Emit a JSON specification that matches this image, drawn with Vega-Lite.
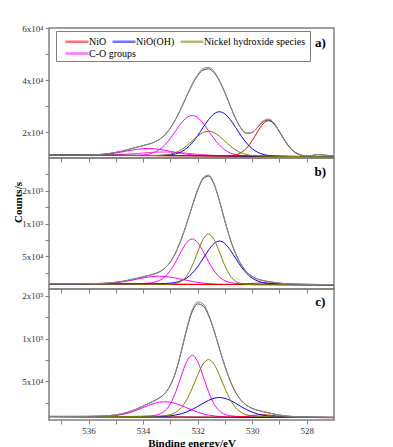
{
"$schema":"https://vega.github.io/schema/vega-lite/v6.json",
"background":"white",
"padding":{"left":11,"top":23,"right":5,"bottom":5},
"config":{"view":{"stroke":"#808080","strokeWidth":1.5},"font":"Liberation Serif",
"axis":{"domain":false,"grid":false,"tickColor":"#808080","tickSize":4,"tickWidth":1,"labelFont":"Liberation Serif","labelFontSize":9,"labelColor":"#333333","labelPadding":2,"titleFont":"Liberation Serif","titleFontWeight":"bold","titleFontSize":11,"titleColor":"#000000"}},
"data":{"values":[
{"p":"a","s":"s0 Background","x":537.45,"y":11200},{"p":"a","s":"s0 Background","x":527,"y":10500},
{"p":"a","s":"s1 NiO","x":537.45,"y":11200},{"p":"a","s":"s1 NiO","x":531.2,"y":10789},{"p":"a","s":"s1 NiO","x":531,"y":10806},{"p":"a","s":"s1 NiO","x":530.8,"y":10908},{"p":"a","s":"s1 NiO","x":530.6,"y":11245},{"p":"a","s":"s1 NiO","x":530.4,"y":12107},{"p":"a","s":"s1 NiO","x":530.2,"y":13867},{"p":"a","s":"s1 NiO","x":530,"y":16680},{"p":"a","s":"s1 NiO","x":529.8,"y":20147},{"p":"a","s":"s1 NiO","x":529.6,"y":23123},{"p":"a","s":"s1 NiO","x":529.4,"y":24311},{"p":"a","s":"s1 NiO","x":529.2,"y":23096},{"p":"a","s":"s1 NiO","x":529,"y":20093},{"p":"a","s":"s1 NiO","x":528.8,"y":16600},{"p":"a","s":"s1 NiO","x":528.6,"y":13760},{"p":"a","s":"s1 NiO","x":528.4,"y":11973},{"p":"a","s":"s1 NiO","x":528.2,"y":11084},{"p":"a","s":"s1 NiO","x":528,"y":10720},{"p":"a","s":"s1 NiO","x":527.6,"y":10548},{"p":"a","s":"s1 NiO","x":527,"y":10500},
{"p":"a","s":"s2 NiO(OH)","x":537.45,"y":11200},{"p":"a","s":"s2 NiO(OH)","x":533.6,"y":10956},{"p":"a","s":"s2 NiO(OH)","x":533.4,"y":10973},{"p":"a","s":"s2 NiO(OH)","x":533.2,"y":11037},{"p":"a","s":"s2 NiO(OH)","x":533,"y":11217},{"p":"a","s":"s2 NiO(OH)","x":532.8,"y":11615},{"p":"a","s":"s2 NiO(OH)","x":532.6,"y":12395},{"p":"a","s":"s2 NiO(OH)","x":532.4,"y":13752},{"p":"a","s":"s2 NiO(OH)","x":532.2,"y":15812},{"p":"a","s":"s2 NiO(OH)","x":532,"y":18553},{"p":"a","s":"s2 NiO(OH)","x":531.8,"y":21735},{"p":"a","s":"s2 NiO(OH)","x":531.6,"y":24765},{"p":"a","s":"s2 NiO(OH)","x":531.4,"y":26979},{"p":"a","s":"s2 NiO(OH)","x":531.2,"y":27781},{"p":"a","s":"s2 NiO(OH)","x":531,"y":26952},{"p":"a","s":"s2 NiO(OH)","x":530.8,"y":24712},{"p":"a","s":"s2 NiO(OH)","x":530.6,"y":21655},{"p":"a","s":"s2 NiO(OH)","x":530.4,"y":18446},{"p":"a","s":"s2 NiO(OH)","x":530.2,"y":15678},{"p":"a","s":"s2 NiO(OH)","x":530,"y":13591},{"p":"a","s":"s2 NiO(OH)","x":529.8,"y":12208},{"p":"a","s":"s2 NiO(OH)","x":529.6,"y":11400},{"p":"a","s":"s2 NiO(OH)","x":529.4,"y":10976},{"p":"a","s":"s2 NiO(OH)","x":529.2,"y":10769},{"p":"a","s":"s2 NiO(OH)","x":529,"y":10678},{"p":"a","s":"s2 NiO(OH)","x":528.8,"y":10635},{"p":"a","s":"s2 NiO(OH)","x":527,"y":10500},
{"p":"a","s":"s3 Nickel hydroxide species","x":537.45,"y":11200},{"p":"a","s":"s3 Nickel hydroxide species","x":533.8,"y":10966},{"p":"a","s":"s3 Nickel hydroxide species","x":533.6,"y":10975},{"p":"a","s":"s3 Nickel hydroxide species","x":533.4,"y":11026},{"p":"a","s":"s3 Nickel hydroxide species","x":533.2,"y":11170},{"p":"a","s":"s3 Nickel hydroxide species","x":533,"y":11496},{"p":"a","s":"s3 Nickel hydroxide species","x":532.8,"y":12124},{"p":"a","s":"s3 Nickel hydroxide species","x":532.6,"y":13184},{"p":"a","s":"s3 Nickel hydroxide species","x":532.4,"y":14700},{"p":"a","s":"s3 Nickel hydroxide species","x":532.2,"y":16558},{"p":"a","s":"s3 Nickel hydroxide species","x":532,"y":18407},{"p":"a","s":"s3 Nickel hydroxide species","x":531.8,"y":19799},{"p":"a","s":"s3 Nickel hydroxide species","x":531.6,"y":20308},{"p":"a","s":"s3 Nickel hydroxide species","x":531.4,"y":19773},{"p":"a","s":"s3 Nickel hydroxide species","x":531.2,"y":18353},{"p":"a","s":"s3 Nickel hydroxide species","x":531,"y":16478},{"p":"a","s":"s3 Nickel hydroxide species","x":530.8,"y":14593},{"p":"a","s":"s3 Nickel hydroxide species","x":530.6,"y":13050},{"p":"a","s":"s3 Nickel hydroxide species","x":530.4,"y":11963},{"p":"a","s":"s3 Nickel hydroxide species","x":530.2,"y":11308},{"p":"a","s":"s3 Nickel hydroxide species","x":530,"y":10956},{"p":"a","s":"s3 Nickel hydroxide species","x":529.8,"y":10785},{"p":"a","s":"s3 Nickel hydroxide species","x":529.6,"y":10707},{"p":"a","s":"s3 Nickel hydroxide species","x":529.4,"y":10671},{"p":"a","s":"s3 Nickel hydroxide species","x":527,"y":10500},
{"p":"a","s":"s4 C-O groups","x":537.45,"y":11200},{"p":"a","s":"s4 C-O groups","x":534.6,"y":11017},{"p":"a","s":"s4 C-O groups","x":534.4,"y":11022},{"p":"a","s":"s4 C-O groups","x":534.2,"y":11061},{"p":"a","s":"s4 C-O groups","x":534,"y":11184},{"p":"a","s":"s4 C-O groups","x":533.8,"y":11486},{"p":"a","s":"s4 C-O groups","x":533.6,"y":12111},{"p":"a","s":"s4 C-O groups","x":533.4,"y":13254},{"p":"a","s":"s4 C-O groups","x":533.2,"y":15061},{"p":"a","s":"s4 C-O groups","x":533,"y":17567},{"p":"a","s":"s4 C-O groups","x":532.8,"y":20530},{"p":"a","s":"s4 C-O groups","x":532.6,"y":23430},{"p":"a","s":"s4 C-O groups","x":532.4,"y":25572},{"p":"a","s":"s4 C-O groups","x":532.2,"y":26348},{"p":"a","s":"s4 C-O groups","x":532,"y":25545},{"p":"a","s":"s4 C-O groups","x":531.8,"y":23376},{"p":"a","s":"s4 C-O groups","x":531.6,"y":20449},{"p":"a","s":"s4 C-O groups","x":531.4,"y":17460},{"p":"a","s":"s4 C-O groups","x":531.2,"y":14927},{"p":"a","s":"s4 C-O groups","x":531,"y":13093},{"p":"a","s":"s4 C-O groups","x":530.8,"y":11924},{"p":"a","s":"s4 C-O groups","x":530.6,"y":11271},{"p":"a","s":"s4 C-O groups","x":530.4,"y":10943},{"p":"a","s":"s4 C-O groups","x":530.2,"y":10793},{"p":"a","s":"s4 C-O groups","x":530,"y":10727},{"p":"a","s":"s4 C-O groups","x":529.8,"y":10696},{"p":"a","s":"s4 C-O groups","x":527,"y":10500},
{"p":"a","s":"s5 C-O groups 2","x":537.45,"y":11200},{"p":"a","s":"s5 C-O groups 2","x":537,"y":11171},{"p":"a","s":"s5 C-O groups 2","x":536.5,"y":11150},{"p":"a","s":"s5 C-O groups 2","x":536,"y":11168},{"p":"a","s":"s5 C-O groups 2","x":535.5,"y":11363},{"p":"a","s":"s5 C-O groups 2","x":535,"y":11930},{"p":"a","s":"s5 C-O groups 2","x":534.8,"y":12276},{"p":"a","s":"s5 C-O groups 2","x":534.6,"y":12661},{"p":"a","s":"s5 C-O groups 2","x":534.4,"y":13043},{"p":"a","s":"s5 C-O groups 2","x":534.2,"y":13369},{"p":"a","s":"s5 C-O groups 2","x":534,"y":13588},{"p":"a","s":"s5 C-O groups 2","x":533.8,"y":13656},{"p":"a","s":"s5 C-O groups 2","x":533.6,"y":13561},{"p":"a","s":"s5 C-O groups 2","x":533.4,"y":13316},{"p":"a","s":"s5 C-O groups 2","x":533.2,"y":12962},{"p":"a","s":"s5 C-O groups 2","x":533,"y":12554},{"p":"a","s":"s5 C-O groups 2","x":532.8,"y":12142},{"p":"a","s":"s5 C-O groups 2","x":532.6,"y":11769},{"p":"a","s":"s5 C-O groups 2","x":532.4,"y":11461},{"p":"a","s":"s5 C-O groups 2","x":532.2,"y":11226},{"p":"a","s":"s5 C-O groups 2","x":532,"y":11059},{"p":"a","s":"s5 C-O groups 2","x":531.8,"y":10945},{"p":"a","s":"s5 C-O groups 2","x":531.6,"y":10873},{"p":"a","s":"s5 C-O groups 2","x":531.4,"y":10827},{"p":"a","s":"s5 C-O groups 2","x":531.2,"y":10796},{"p":"a","s":"s5 C-O groups 2","x":531,"y":10774},{"p":"a","s":"s5 C-O groups 2","x":527,"y":10500},
{"p":"a","s":"s6 C-O groups 3","x":537.45,"y":11200},{"p":"a","s":"s6 C-O groups 3","x":536,"y":11118},{"p":"a","s":"s6 C-O groups 3","x":535.5,"y":11137},{"p":"a","s":"s6 C-O groups 3","x":535,"y":11254},{"p":"a","s":"s6 C-O groups 3","x":534.8,"y":11346},{"p":"a","s":"s6 C-O groups 3","x":534.6,"y":11464},{"p":"a","s":"s6 C-O groups 3","x":534.4,"y":11609},{"p":"a","s":"s6 C-O groups 3","x":534.2,"y":11772},{"p":"a","s":"s6 C-O groups 3","x":534,"y":11939},{"p":"a","s":"s6 C-O groups 3","x":533.8,"y":12096},{"p":"a","s":"s6 C-O groups 3","x":533.6,"y":12219},{"p":"a","s":"s6 C-O groups 3","x":533.4,"y":12297},{"p":"a","s":"s6 C-O groups 3","x":533.2,"y":12315},{"p":"a","s":"s6 C-O groups 3","x":533,"y":12270},{"p":"a","s":"s6 C-O groups 3","x":532.8,"y":12166},{"p":"a","s":"s6 C-O groups 3","x":532.6,"y":12015},{"p":"a","s":"s6 C-O groups 3","x":532.4,"y":11832},{"p":"a","s":"s6 C-O groups 3","x":532.2,"y":11638},{"p":"a","s":"s6 C-O groups 3","x":532,"y":11448},{"p":"a","s":"s6 C-O groups 3","x":531.8,"y":11276},{"p":"a","s":"s6 C-O groups 3","x":531.6,"y":11131},{"p":"a","s":"s6 C-O groups 3","x":531.4,"y":11013},{"p":"a","s":"s6 C-O groups 3","x":531.2,"y":10922},{"p":"a","s":"s6 C-O groups 3","x":531,"y":10856},{"p":"a","s":"s6 C-O groups 3","x":530.8,"y":10807},{"p":"a","s":"s6 C-O groups 3","x":530.6,"y":10770},{"p":"a","s":"s6 C-O groups 3","x":530.4,"y":10743},{"p":"a","s":"s6 C-O groups 3","x":530,"y":10704},{"p":"a","s":"s6 C-O groups 3","x":527,"y":10500},
{"p":"a","s":"s7 Fit","x":537.45,"y":11200},{"p":"a","s":"s7 Fit","x":537,"y":11171},{"p":"a","s":"s7 Fit","x":536.5,"y":11150},{"p":"a","s":"s7 Fit","x":536,"y":11183},{"p":"a","s":"s7 Fit","x":535.5,"y":11430},{"p":"a","s":"s7 Fit","x":535,"y":12148},{"p":"a","s":"s7 Fit","x":534.8,"y":12601},{"p":"a","s":"s7 Fit","x":534.6,"y":13124},{"p":"a","s":"s7 Fit","x":534.4,"y":13682},{"p":"a","s":"s7 Fit","x":534.2,"y":14238},{"p":"a","s":"s7 Fit","x":534,"y":14776},{"p":"a","s":"s7 Fit","x":533.8,"y":15340},{"p":"a","s":"s7 Fit","x":533.6,"y":16054},{"p":"a","s":"s7 Fit","x":533.4,"y":17150},{"p":"a","s":"s7 Fit","x":533.2,"y":18885},{"p":"a","s":"s7 Fit","x":533,"y":21496},{"p":"a","s":"s7 Fit","x":532.8,"y":25021},{"p":"a","s":"s7 Fit","x":532.6,"y":29293},{"p":"a","s":"s7 Fit","x":532.4,"y":33869},{"p":"a","s":"s7 Fit","x":532.2,"y":38190},{"p":"a","s":"s7 Fit","x":532,"y":41672},{"p":"a","s":"s7 Fit","x":531.8,"y":43847},{"p":"a","s":"s7 Fit","x":531.6,"y":44294},{"p":"a","s":"s7 Fit","x":531.4,"y":42873},{"p":"a","s":"s7 Fit","x":531.2,"y":39663},{"p":"a","s":"s7 Fit","x":531,"y":35119},{"p":"a","s":"s7 Fit","x":530.8,"y":29924},{"p":"a","s":"s7 Fit","x":530.6,"y":25027},{"p":"a","s":"s7 Fit","x":530.4,"y":21290},{"p":"a","s":"s7 Fit","x":530.2,"y":19512},{"p":"a","s":"s7 Fit","x":530,"y":19854},{"p":"a","s":"s7 Fit","x":529.8,"y":21772},{"p":"a","s":"s7 Fit","x":529.6,"y":23882},{"p":"a","s":"s7 Fit","x":529.4,"y":24636},{"p":"a","s":"s7 Fit","x":529.2,"y":23218},{"p":"a","s":"s7 Fit","x":529,"y":20137},{"p":"a","s":"s7 Fit","x":528.8,"y":16614},{"p":"a","s":"s7 Fit","x":528.6,"y":13760},{"p":"a","s":"s7 Fit","x":528.4,"y":11973},{"p":"a","s":"s7 Fit","x":528.2,"y":11084},{"p":"a","s":"s7 Fit","x":528,"y":10750},{"p":"a","s":"s7 Fit","x":527.8,"y":11000},{"p":"a","s":"s7 Fit","x":527.6,"y":11250},{"p":"a","s":"s7 Fit","x":527.4,"y":11150},{"p":"a","s":"s7 Fit","x":527,"y":10800},
{"p":"a","s":"s8 Experimental","x":537.45,"y":11200},{"p":"a","s":"s8 Experimental","x":537,"y":11171},{"p":"a","s":"s8 Experimental","x":536.5,"y":11150},{"p":"a","s":"s8 Experimental","x":536,"y":11183},{"p":"a","s":"s8 Experimental","x":535.5,"y":11430},{"p":"a","s":"s8 Experimental","x":535,"y":12148},{"p":"a","s":"s8 Experimental","x":534.8,"y":12601},{"p":"a","s":"s8 Experimental","x":534.6,"y":13124},{"p":"a","s":"s8 Experimental","x":534.4,"y":13682},{"p":"a","s":"s8 Experimental","x":534.2,"y":14238},{"p":"a","s":"s8 Experimental","x":534,"y":14776},{"p":"a","s":"s8 Experimental","x":533.8,"y":15340},{"p":"a","s":"s8 Experimental","x":533.6,"y":16054},{"p":"a","s":"s8 Experimental","x":533.4,"y":17150},{"p":"a","s":"s8 Experimental","x":533.2,"y":18885},{"p":"a","s":"s8 Experimental","x":533,"y":21496},{"p":"a","s":"s8 Experimental","x":532.8,"y":25021},{"p":"a","s":"s8 Experimental","x":532.6,"y":29293},{"p":"a","s":"s8 Experimental","x":532.4,"y":33869},{"p":"a","s":"s8 Experimental","x":532.2,"y":38400},{"p":"a","s":"s8 Experimental","x":532,"y":42000},{"p":"a","s":"s8 Experimental","x":531.8,"y":44400},{"p":"a","s":"s8 Experimental","x":531.6,"y":44900},{"p":"a","s":"s8 Experimental","x":531.4,"y":43300},{"p":"a","s":"s8 Experimental","x":531.2,"y":39800},{"p":"a","s":"s8 Experimental","x":531,"y":35119},{"p":"a","s":"s8 Experimental","x":530.8,"y":29924},{"p":"a","s":"s8 Experimental","x":530.6,"y":25027},{"p":"a","s":"s8 Experimental","x":530.4,"y":21290},{"p":"a","s":"s8 Experimental","x":530.2,"y":19512},{"p":"a","s":"s8 Experimental","x":530,"y":19854},{"p":"a","s":"s8 Experimental","x":529.8,"y":21900},{"p":"a","s":"s8 Experimental","x":529.6,"y":24200},{"p":"a","s":"s8 Experimental","x":529.4,"y":25000},{"p":"a","s":"s8 Experimental","x":529.2,"y":23500},{"p":"a","s":"s8 Experimental","x":529,"y":20137},{"p":"a","s":"s8 Experimental","x":528.8,"y":16614},{"p":"a","s":"s8 Experimental","x":528.6,"y":13760},{"p":"a","s":"s8 Experimental","x":528.4,"y":11973},{"p":"a","s":"s8 Experimental","x":528.2,"y":11084},{"p":"a","s":"s8 Experimental","x":528,"y":10750},{"p":"a","s":"s8 Experimental","x":527.8,"y":11000},{"p":"a","s":"s8 Experimental","x":527.6,"y":11350},{"p":"a","s":"s8 Experimental","x":527.4,"y":11150},{"p":"a","s":"s8 Experimental","x":527,"y":10800},

{"p":"b","s":"s0 Background","x":537.45,"y":7760},{"p":"b","s":"s0 Background","x":527,"y":6300},
{"p":"b","s":"s1 NiO","x":537.45,"y":7760},{"p":"b","s":"s1 NiO","x":531.2,"y":6895},{"p":"b","s":"s1 NiO","x":531,"y":6888},{"p":"b","s":"s1 NiO","x":530.8,"y":6925},{"p":"b","s":"s1 NiO","x":530.6,"y":7057},{"p":"b","s":"s1 NiO","x":530.4,"y":7354},{"p":"b","s":"s1 NiO","x":530.2,"y":7843},{"p":"b","s":"s1 NiO","x":530,"y":8453},{"p":"b","s":"s1 NiO","x":529.8,"y":8972},{"p":"b","s":"s1 NiO","x":529.6,"y":9164},{"p":"b","s":"s1 NiO","x":529.4,"y":8916},{"p":"b","s":"s1 NiO","x":529.2,"y":8341},{"p":"b","s":"s1 NiO","x":529,"y":7675},{"p":"b","s":"s1 NiO","x":528.8,"y":7130},{"p":"b","s":"s1 NiO","x":528.6,"y":6777},{"p":"b","s":"s1 NiO","x":528.4,"y":6589},{"p":"b","s":"s1 NiO","x":528.2,"y":6496},{"p":"b","s":"s1 NiO","x":528,"y":6447},{"p":"b","s":"s1 NiO","x":527,"y":6300},
{"p":"b","s":"s2 NiO(OH)","x":537.45,"y":7890},{"p":"b","s":"s2 NiO(OH)","x":535,"y":7746},{"p":"b","s":"s2 NiO(OH)","x":534.6,"y":7768},{"p":"b","s":"s2 NiO(OH)","x":534.2,"y":7819},{"p":"b","s":"s2 NiO(OH)","x":534,"y":7863},{"p":"b","s":"s2 NiO(OH)","x":533.8,"y":7922},{"p":"b","s":"s2 NiO(OH)","x":533.6,"y":8006},{"p":"b","s":"s2 NiO(OH)","x":533.4,"y":8171},{"p":"b","s":"s2 NiO(OH)","x":533.2,"y":8454},{"p":"b","s":"s2 NiO(OH)","x":533,"y":9023},{"p":"b","s":"s2 NiO(OH)","x":532.8,"y":10221},{"p":"b","s":"s2 NiO(OH)","x":532.6,"y":12594},{"p":"b","s":"s2 NiO(OH)","x":532.4,"y":16908},{"p":"b","s":"s2 NiO(OH)","x":532.2,"y":23994},{"p":"b","s":"s2 NiO(OH)","x":532,"y":34077},{"p":"b","s":"s2 NiO(OH)","x":531.8,"y":46580},{"p":"b","s":"s2 NiO(OH)","x":531.6,"y":59361},{"p":"b","s":"s2 NiO(OH)","x":531.4,"y":69371},{"p":"b","s":"s2 NiO(OH)","x":531.2,"y":73188},{"p":"b","s":"s2 NiO(OH)","x":531,"y":69315},{"p":"b","s":"s2 NiO(OH)","x":530.8,"y":59249},{"p":"b","s":"s2 NiO(OH)","x":530.6,"y":46412},{"p":"b","s":"s2 NiO(OH)","x":530.4,"y":33853},{"p":"b","s":"s2 NiO(OH)","x":530.2,"y":23714},{"p":"b","s":"s2 NiO(OH)","x":530,"y":16572},{"p":"b","s":"s2 NiO(OH)","x":529.8,"y":12202},{"p":"b","s":"s2 NiO(OH)","x":529.6,"y":9773},{"p":"b","s":"s2 NiO(OH)","x":529.4,"y":8519},{"p":"b","s":"s2 NiO(OH)","x":529.2,"y":7894},{"p":"b","s":"s2 NiO(OH)","x":529,"y":7555},{"p":"b","s":"s2 NiO(OH)","x":528.8,"y":7334},{"p":"b","s":"s2 NiO(OH)","x":528.6,"y":7194},{"p":"b","s":"s2 NiO(OH)","x":528.4,"y":7079},{"p":"b","s":"s2 NiO(OH)","x":528.2,"y":6979},{"p":"b","s":"s2 NiO(OH)","x":528,"y":6897},{"p":"b","s":"s2 NiO(OH)","x":527.6,"y":6749},{"p":"b","s":"s2 NiO(OH)","x":527,"y":6572},
{"p":"b","s":"s3 Nickel hydroxide species","x":537.45,"y":7760},{"p":"b","s":"s3 Nickel hydroxide species","x":533.4,"y":7205},{"p":"b","s":"s3 Nickel hydroxide species","x":533.2,"y":7230},{"p":"b","s":"s3 Nickel hydroxide species","x":533,"y":7479},{"p":"b","s":"s3 Nickel hydroxide species","x":532.8,"y":8537},{"p":"b","s":"s3 Nickel hydroxide species","x":532.6,"y":11897},{"p":"b","s":"s3 Nickel hydroxide species","x":532.4,"y":20146},{"p":"b","s":"s3 Nickel hydroxide species","x":532.2,"y":35441},{"p":"b","s":"s3 Nickel hydroxide species","x":532,"y":56434},{"p":"b","s":"s3 Nickel hydroxide species","x":531.8,"y":75887},{"p":"b","s":"s3 Nickel hydroxide species","x":531.6,"y":83944},{"p":"b","s":"s3 Nickel hydroxide species","x":531.4,"y":75831},{"p":"b","s":"s3 Nickel hydroxide species","x":531.2,"y":56322},{"p":"b","s":"s3 Nickel hydroxide species","x":531,"y":35273},{"p":"b","s":"s3 Nickel hydroxide species","x":530.8,"y":19922},{"p":"b","s":"s3 Nickel hydroxide species","x":530.6,"y":11617},{"p":"b","s":"s3 Nickel hydroxide species","x":530.4,"y":8201},{"p":"b","s":"s3 Nickel hydroxide species","x":530.2,"y":7087},{"p":"b","s":"s3 Nickel hydroxide species","x":530,"y":6782},{"p":"b","s":"s3 Nickel hydroxide species","x":529.8,"y":6701},{"p":"b","s":"s3 Nickel hydroxide species","x":527,"y":6300},
{"p":"b","s":"s4 C-O groups","x":537.45,"y":7893},{"p":"b","s":"s4 C-O groups","x":536,"y":7813},{"p":"b","s":"s4 C-O groups","x":535,"y":7878},{"p":"b","s":"s4 C-O groups","x":534.8,"y":7919},{"p":"b","s":"s4 C-O groups","x":534.6,"y":7974},{"p":"b","s":"s4 C-O groups","x":534.4,"y":8057},{"p":"b","s":"s4 C-O groups","x":534.2,"y":8189},{"p":"b","s":"s4 C-O groups","x":534,"y":8431},{"p":"b","s":"s4 C-O groups","x":533.8,"y":8958},{"p":"b","s":"s4 C-O groups","x":533.6,"y":10199},{"p":"b","s":"s4 C-O groups","x":533.4,"y":12959},{"p":"b","s":"s4 C-O groups","x":533.2,"y":18541},{"p":"b","s":"s4 C-O groups","x":533,"y":28084},{"p":"b","s":"s4 C-O groups","x":532.8,"y":41787},{"p":"b","s":"s4 C-O groups","x":532.6,"y":57640},{"p":"b","s":"s4 C-O groups","x":532.4,"y":70997},{"p":"b","s":"s4 C-O groups","x":532.2,"y":76378},{"p":"b","s":"s4 C-O groups","x":532,"y":70941},{"p":"b","s":"s4 C-O groups","x":531.8,"y":57528},{"p":"b","s":"s4 C-O groups","x":531.6,"y":41619},{"p":"b","s":"s4 C-O groups","x":531.4,"y":27860},{"p":"b","s":"s4 C-O groups","x":531.2,"y":18261},{"p":"b","s":"s4 C-O groups","x":531,"y":12623},{"p":"b","s":"s4 C-O groups","x":530.8,"y":9807},{"p":"b","s":"s4 C-O groups","x":530.6,"y":8510},{"p":"b","s":"s4 C-O groups","x":530.4,"y":7927},{"p":"b","s":"s4 C-O groups","x":530.2,"y":7629},{"p":"b","s":"s4 C-O groups","x":530,"y":7441},{"p":"b","s":"s4 C-O groups","x":529.8,"y":7302},{"p":"b","s":"s4 C-O groups","x":529.6,"y":7191},{"p":"b","s":"s4 C-O groups","x":529.4,"y":7094},{"p":"b","s":"s4 C-O groups","x":529.2,"y":7010},{"p":"b","s":"s4 C-O groups","x":529,"y":6934},{"p":"b","s":"s4 C-O groups","x":528,"y":6648},{"p":"b","s":"s4 C-O groups","x":527,"y":6437},
{"p":"b","s":"s5 C-O groups 2","x":537.45,"y":7760},{"p":"b","s":"s5 C-O groups 2","x":537,"y":7700},{"p":"b","s":"s5 C-O groups 2","x":536.5,"y":7645},{"p":"b","s":"s5 C-O groups 2","x":536,"y":7673},{"p":"b","s":"s5 C-O groups 2","x":535.5,"y":8068},{"p":"b","s":"s5 C-O groups 2","x":535,"y":9511},{"p":"b","s":"s5 C-O groups 2","x":534.8,"y":10553},{"p":"b","s":"s5 C-O groups 2","x":534.6,"y":11903},{"p":"b","s":"s5 C-O groups 2","x":534.4,"y":13486},{"p":"b","s":"s5 C-O groups 2","x":534.2,"y":15205},{"p":"b","s":"s5 C-O groups 2","x":534,"y":16862},{"p":"b","s":"s5 C-O groups 2","x":533.8,"y":18261},{"p":"b","s":"s5 C-O groups 2","x":533.6,"y":19192},{"p":"b","s":"s5 C-O groups 2","x":533.4,"y":19496},{"p":"b","s":"s5 C-O groups 2","x":533.2,"y":19136},{"p":"b","s":"s5 C-O groups 2","x":533,"y":18149},{"p":"b","s":"s5 C-O groups 2","x":532.8,"y":16694},{"p":"b","s":"s5 C-O groups 2","x":532.6,"y":14981},{"p":"b","s":"s5 C-O groups 2","x":532.4,"y":13206},{"p":"b","s":"s5 C-O groups 2","x":532.2,"y":11567},{"p":"b","s":"s5 C-O groups 2","x":532,"y":10161},{"p":"b","s":"s5 C-O groups 2","x":531.8,"y":9063},{"p":"b","s":"s5 C-O groups 2","x":531.6,"y":8248},{"p":"b","s":"s5 C-O groups 2","x":531.4,"y":7685},{"p":"b","s":"s5 C-O groups 2","x":531.2,"y":7317},{"p":"b","s":"s5 C-O groups 2","x":531,"y":7088},{"p":"b","s":"s5 C-O groups 2","x":530.8,"y":6945},{"p":"b","s":"s5 C-O groups 2","x":530.6,"y":6858},{"p":"b","s":"s5 C-O groups 2","x":530.4,"y":6801},{"p":"b","s":"s5 C-O groups 2","x":530,"y":6724},{"p":"b","s":"s5 C-O groups 2","x":527,"y":6300},
{"p":"b","s":"s7 Fit","x":537.45,"y":8020},{"p":"b","s":"s7 Fit","x":537,"y":8004},{"p":"b","s":"s7 Fit","x":536.5,"y":8015},{"p":"b","s":"s7 Fit","x":536,"y":8133},{"p":"b","s":"s7 Fit","x":535.5,"y":8658},{"p":"b","s":"s7 Fit","x":535,"y":10295},{"p":"b","s":"s7 Fit","x":534.8,"y":11445},{"p":"b","s":"s7 Fit","x":534.6,"y":12917},{"p":"b","s":"s7 Fit","x":534.4,"y":14664},{"p":"b","s":"s7 Fit","x":534.2,"y":16597},{"p":"b","s":"s7 Fit","x":534,"y":18596},{"p":"b","s":"s7 Fit","x":533.8,"y":20637},{"p":"b","s":"s7 Fit","x":533.6,"y":22950},{"p":"b","s":"s7 Fit","x":533.4,"y":26243},{"p":"b","s":"s7 Fit","x":533.2,"y":31857},{"p":"b","s":"s7 Fit","x":533,"y":41315},{"p":"b","s":"s7 Fit","x":532.8,"y":55903},{"p":"b","s":"s7 Fit","x":532.6,"y":75860},{"p":"b","s":"s7 Fit","x":532.4,"y":100089},{"p":"b","s":"s7 Fit","x":532.2,"y":126296},{"p":"b","s":"s7 Fit","x":532,"y":150613},{"p":"b","s":"s7 Fit","x":531.8,"y":168142},{"p":"b","s":"s7 Fit","x":531.6,"y":172340},{"p":"b","s":"s7 Fit","x":531.4,"y":159999},{"p":"b","s":"s7 Fit","x":531.2,"y":134431},{"p":"b","s":"s7 Fit","x":531,"y":103747},{"p":"b","s":"s7 Fit","x":530.8,"y":75520},{"p":"b","s":"s7 Fit","x":530.6,"y":53238},{"p":"b","s":"s7 Fit","x":530.4,"y":37032},{"p":"b","s":"s7 Fit","x":530.2,"y":26039},{"p":"b","s":"s7 Fit","x":530,"y":19092},{"p":"b","s":"s7 Fit","x":529.8,"y":15101},{"p":"b","s":"s7 Fit","x":529.6,"y":12800},{"p":"b","s":"s7 Fit","x":529.4,"y":11257},{"p":"b","s":"s7 Fit","x":529.2,"y":10029},{"p":"b","s":"s7 Fit","x":529,"y":9004},{"p":"b","s":"s7 Fit","x":528.8,"y":8226},{"p":"b","s":"s7 Fit","x":528.6,"y":7728},{"p":"b","s":"s7 Fit","x":528.4,"y":7425},{"p":"b","s":"s7 Fit","x":528.2,"y":7236},{"p":"b","s":"s7 Fit","x":528,"y":7112},{"p":"b","s":"s7 Fit","x":527.6,"y":6923},{"p":"b","s":"s7 Fit","x":527,"y":6709},
{"p":"b","s":"s8 Experimental","x":537.45,"y":8020},{"p":"b","s":"s8 Experimental","x":537,"y":8004},{"p":"b","s":"s8 Experimental","x":536.5,"y":8015},{"p":"b","s":"s8 Experimental","x":536,"y":8133},{"p":"b","s":"s8 Experimental","x":535.5,"y":8658},{"p":"b","s":"s8 Experimental","x":535,"y":10295},{"p":"b","s":"s8 Experimental","x":534.8,"y":11445},{"p":"b","s":"s8 Experimental","x":534.6,"y":12917},{"p":"b","s":"s8 Experimental","x":534.4,"y":14664},{"p":"b","s":"s8 Experimental","x":534.2,"y":16597},{"p":"b","s":"s8 Experimental","x":534,"y":18596},{"p":"b","s":"s8 Experimental","x":533.8,"y":20637},{"p":"b","s":"s8 Experimental","x":533.6,"y":22950},{"p":"b","s":"s8 Experimental","x":533.4,"y":26243},{"p":"b","s":"s8 Experimental","x":533.2,"y":31857},{"p":"b","s":"s8 Experimental","x":533,"y":41315},{"p":"b","s":"s8 Experimental","x":532.8,"y":55903},{"p":"b","s":"s8 Experimental","x":532.6,"y":75860},{"p":"b","s":"s8 Experimental","x":532.4,"y":100089},{"p":"b","s":"s8 Experimental","x":532.2,"y":126800},{"p":"b","s":"s8 Experimental","x":532,"y":151500},{"p":"b","s":"s8 Experimental","x":531.8,"y":169500},{"p":"b","s":"s8 Experimental","x":531.6,"y":174000},{"p":"b","s":"s8 Experimental","x":531.4,"y":161000},{"p":"b","s":"s8 Experimental","x":531.2,"y":134431},{"p":"b","s":"s8 Experimental","x":531,"y":103747},{"p":"b","s":"s8 Experimental","x":530.8,"y":75520},{"p":"b","s":"s8 Experimental","x":530.6,"y":53238},{"p":"b","s":"s8 Experimental","x":530.4,"y":37032},{"p":"b","s":"s8 Experimental","x":530.2,"y":26039},{"p":"b","s":"s8 Experimental","x":530,"y":19092},{"p":"b","s":"s8 Experimental","x":529.8,"y":15101},{"p":"b","s":"s8 Experimental","x":529.6,"y":12800},{"p":"b","s":"s8 Experimental","x":529.4,"y":11257},{"p":"b","s":"s8 Experimental","x":529.2,"y":10029},{"p":"b","s":"s8 Experimental","x":529,"y":9004},{"p":"b","s":"s8 Experimental","x":528.8,"y":8226},{"p":"b","s":"s8 Experimental","x":528.6,"y":7728},{"p":"b","s":"s8 Experimental","x":528.4,"y":7425},{"p":"b","s":"s8 Experimental","x":528.2,"y":7236},{"p":"b","s":"s8 Experimental","x":528,"y":7112},{"p":"b","s":"s8 Experimental","x":527.6,"y":6923},{"p":"b","s":"s8 Experimental","x":527,"y":6709},

{"p":"c","s":"s0 Background","x":537.45,"y":8850},{"p":"c","s":"s0 Background","x":527,"y":7700},
{"p":"c","s":"s1 NiO","x":537.45,"y":8850},{"p":"c","s":"s1 NiO","x":531.2,"y":8170},{"p":"c","s":"s1 NiO","x":531,"y":8173},{"p":"c","s":"s1 NiO","x":530.8,"y":8229},{"p":"c","s":"s1 NiO","x":530.6,"y":8399},{"p":"c","s":"s1 NiO","x":530.4,"y":8767},{"p":"c","s":"s1 NiO","x":530.2,"y":9366},{"p":"c","s":"s1 NiO","x":530,"y":10109},{"p":"c","s":"s1 NiO","x":529.8,"y":10744},{"p":"c","s":"s1 NiO","x":529.6,"y":10986},{"p":"c","s":"s1 NiO","x":529.4,"y":10700},{"p":"c","s":"s1 NiO","x":529.2,"y":10021},{"p":"c","s":"s1 NiO","x":529,"y":9234},{"p":"c","s":"s1 NiO","x":528.8,"y":8591},{"p":"c","s":"s1 NiO","x":528.6,"y":8179},{"p":"c","s":"s1 NiO","x":528.4,"y":7965},{"p":"c","s":"s1 NiO","x":528.2,"y":7865},{"p":"c","s":"s1 NiO","x":528,"y":7818},{"p":"c","s":"s1 NiO","x":527,"y":7700},
{"p":"c","s":"s2 NiO(OH)","x":537.45,"y":8908},{"p":"c","s":"s2 NiO(OH)","x":535,"y":8746},{"p":"c","s":"s2 NiO(OH)","x":534.2,"y":8747},{"p":"c","s":"s2 NiO(OH)","x":533.6,"y":8888},{"p":"c","s":"s2 NiO(OH)","x":533.4,"y":9041},{"p":"c","s":"s2 NiO(OH)","x":533.2,"y":9332},{"p":"c","s":"s2 NiO(OH)","x":533,"y":9864},{"p":"c","s":"s2 NiO(OH)","x":532.8,"y":10776},{"p":"c","s":"s2 NiO(OH)","x":532.6,"y":12226},{"p":"c","s":"s2 NiO(OH)","x":532.4,"y":14355},{"p":"c","s":"s2 NiO(OH)","x":532.2,"y":17219},{"p":"c","s":"s2 NiO(OH)","x":532,"y":20647},{"p":"c","s":"s2 NiO(OH)","x":531.8,"y":24374},{"p":"c","s":"s2 NiO(OH)","x":531.6,"y":27802},{"p":"c","s":"s2 NiO(OH)","x":531.4,"y":30264},{"p":"c","s":"s2 NiO(OH)","x":531.2,"y":31162},{"p":"c","s":"s2 NiO(OH)","x":531,"y":30220},{"p":"c","s":"s2 NiO(OH)","x":530.8,"y":27714},{"p":"c","s":"s2 NiO(OH)","x":530.6,"y":24242},{"p":"c","s":"s2 NiO(OH)","x":530.4,"y":20471},{"p":"c","s":"s2 NiO(OH)","x":530.2,"y":16999},{"p":"c","s":"s2 NiO(OH)","x":530,"y":14091},{"p":"c","s":"s2 NiO(OH)","x":529.8,"y":11918},{"p":"c","s":"s2 NiO(OH)","x":529.6,"y":10424},{"p":"c","s":"s2 NiO(OH)","x":529.4,"y":9468},{"p":"c","s":"s2 NiO(OH)","x":529.2,"y":8892},{"p":"c","s":"s2 NiO(OH)","x":529,"y":8557},{"p":"c","s":"s2 NiO(OH)","x":528.8,"y":8360},{"p":"c","s":"s2 NiO(OH)","x":528.6,"y":8239},{"p":"c","s":"s2 NiO(OH)","x":528.4,"y":8158},{"p":"c","s":"s2 NiO(OH)","x":528.2,"y":8087},{"p":"c","s":"s2 NiO(OH)","x":528,"y":8037},{"p":"c","s":"s2 NiO(OH)","x":527.6,"y":7948},{"p":"c","s":"s2 NiO(OH)","x":527,"y":7836},
{"p":"c","s":"s3 Nickel hydroxide species","x":537.45,"y":8952},{"p":"c","s":"s3 Nickel hydroxide species","x":535,"y":8885},{"p":"c","s":"s3 Nickel hydroxide species","x":534.2,"y":9003},{"p":"c","s":"s3 Nickel hydroxide species","x":533.6,"y":9281},{"p":"c","s":"s3 Nickel hydroxide species","x":533.4,"y":9521},{"p":"c","s":"s3 Nickel hydroxide species","x":533.2,"y":10038},{"p":"c","s":"s3 Nickel hydroxide species","x":533,"y":11247},{"p":"c","s":"s3 Nickel hydroxide species","x":532.8,"y":13931},{"p":"c","s":"s3 Nickel hydroxide species","x":532.6,"y":19353},{"p":"c","s":"s3 Nickel hydroxide species","x":532.4,"y":28619},{"p":"c","s":"s3 Nickel hydroxide species","x":532.2,"y":41922},{"p":"c","s":"s3 Nickel hydroxide species","x":532,"y":57312},{"p":"c","s":"s3 Nickel hydroxide species","x":531.8,"y":70279},{"p":"c","s":"s3 Nickel hydroxide species","x":531.6,"y":75506},{"p":"c","s":"s3 Nickel hydroxide species","x":531.4,"y":70235},{"p":"c","s":"s3 Nickel hydroxide species","x":531.2,"y":57224},{"p":"c","s":"s3 Nickel hydroxide species","x":531,"y":41790},{"p":"c","s":"s3 Nickel hydroxide species","x":530.8,"y":28443},{"p":"c","s":"s3 Nickel hydroxide species","x":530.6,"y":19133},{"p":"c","s":"s3 Nickel hydroxide species","x":530.4,"y":13667},{"p":"c","s":"s3 Nickel hydroxide species","x":530.2,"y":10939},{"p":"c","s":"s3 Nickel hydroxide species","x":530,"y":9686},{"p":"c","s":"s3 Nickel hydroxide species","x":529.8,"y":9125},{"p":"c","s":"s3 Nickel hydroxide species","x":529.6,"y":8841},{"p":"c","s":"s3 Nickel hydroxide species","x":529.2,"y":8534},{"p":"c","s":"s3 Nickel hydroxide species","x":528.8,"y":8342},{"p":"c","s":"s3 Nickel hydroxide species","x":528,"y":8083},{"p":"c","s":"s3 Nickel hydroxide species","x":527,"y":7868},
{"p":"c","s":"s4 C-O groups","x":537.45,"y":8953},{"p":"c","s":"s4 C-O groups","x":536,"y":8893},{"p":"c","s":"s4 C-O groups","x":535,"y":8949},{"p":"c","s":"s4 C-O groups","x":534.6,"y":9035},{"p":"c","s":"s4 C-O groups","x":534.2,"y":9193},{"p":"c","s":"s4 C-O groups","x":534,"y":9345},{"p":"c","s":"s4 C-O groups","x":533.8,"y":9605},{"p":"c","s":"s4 C-O groups","x":533.6,"y":10205},{"p":"c","s":"s4 C-O groups","x":533.4,"y":11795},{"p":"c","s":"s4 C-O groups","x":533.2,"y":15699},{"p":"c","s":"s4 C-O groups","x":533,"y":23920},{"p":"c","s":"s4 C-O groups","x":532.8,"y":37868},{"p":"c","s":"s4 C-O groups","x":532.6,"y":56296},{"p":"c","s":"s4 C-O groups","x":532.4,"y":73294},{"p":"c","s":"s4 C-O groups","x":532.2,"y":80572},{"p":"c","s":"s4 C-O groups","x":532,"y":73250},{"p":"c","s":"s4 C-O groups","x":531.8,"y":56208},{"p":"c","s":"s4 C-O groups","x":531.6,"y":37736},{"p":"c","s":"s4 C-O groups","x":531.4,"y":23744},{"p":"c","s":"s4 C-O groups","x":531.2,"y":15479},{"p":"c","s":"s4 C-O groups","x":531,"y":11531},{"p":"c","s":"s4 C-O groups","x":530.8,"y":9897},{"p":"c","s":"s4 C-O groups","x":530.6,"y":9253},{"p":"c","s":"s4 C-O groups","x":530.4,"y":8949},{"p":"c","s":"s4 C-O groups","x":530.2,"y":8753},{"p":"c","s":"s4 C-O groups","x":529.8,"y":8507},{"p":"c","s":"s4 C-O groups","x":529.4,"y":8333},{"p":"c","s":"s4 C-O groups","x":528.4,"y":8057},{"p":"c","s":"s4 C-O groups","x":527,"y":7809},
{"p":"c","s":"s5 C-O groups 2","x":537.45,"y":8850},{"p":"c","s":"s5 C-O groups 2","x":536.5,"y":8749},{"p":"c","s":"s5 C-O groups 2","x":536,"y":8733},{"p":"c","s":"s5 C-O groups 2","x":535.5,"y":8942},{"p":"c","s":"s5 C-O groups 2","x":535,"y":10057},{"p":"c","s":"s5 C-O groups 2","x":534.8,"y":11050},{"p":"c","s":"s5 C-O groups 2","x":534.6,"y":12488},{"p":"c","s":"s5 C-O groups 2","x":534.4,"y":14406},{"p":"c","s":"s5 C-O groups 2","x":534.2,"y":16751},{"p":"c","s":"s5 C-O groups 2","x":534,"y":19364},{"p":"c","s":"s5 C-O groups 2","x":533.8,"y":21940},{"p":"c","s":"s5 C-O groups 2","x":533.6,"y":24161},{"p":"c","s":"s5 C-O groups 2","x":533.4,"y":25670},{"p":"c","s":"s5 C-O groups 2","x":533.2,"y":26182},{"p":"c","s":"s5 C-O groups 2","x":533,"y":25626},{"p":"c","s":"s5 C-O groups 2","x":532.8,"y":24073},{"p":"c","s":"s5 C-O groups 2","x":532.6,"y":21808},{"p":"c","s":"s5 C-O groups 2","x":532.4,"y":19188},{"p":"c","s":"s5 C-O groups 2","x":532.2,"y":16531},{"p":"c","s":"s5 C-O groups 2","x":532,"y":14142},{"p":"c","s":"s5 C-O groups 2","x":531.8,"y":12180},{"p":"c","s":"s5 C-O groups 2","x":531.6,"y":10698},{"p":"c","s":"s5 C-O groups 2","x":531.4,"y":9661},{"p":"c","s":"s5 C-O groups 2","x":531.2,"y":8981},{"p":"c","s":"s5 C-O groups 2","x":531,"y":8567},{"p":"c","s":"s5 C-O groups 2","x":530.8,"y":8332},{"p":"c","s":"s5 C-O groups 2","x":530.6,"y":8196},{"p":"c","s":"s5 C-O groups 2","x":530.4,"y":8117},{"p":"c","s":"s5 C-O groups 2","x":530.2,"y":8070},{"p":"c","s":"s5 C-O groups 2","x":529.8,"y":8008},{"p":"c","s":"s5 C-O groups 2","x":527,"y":7700},
{"p":"c","s":"s7 Fit","x":537.45,"y":9125},{"p":"c","s":"s7 Fit","x":537,"y":9125},{"p":"c","s":"s7 Fit","x":536.5,"y":9143},{"p":"c","s":"s7 Fit","x":536,"y":9219},{"p":"c","s":"s7 Fit","x":535.5,"y":9563},{"p":"c","s":"s7 Fit","x":535,"y":10897},{"p":"c","s":"s7 Fit","x":534.8,"y":12002},{"p":"c","s":"s7 Fit","x":534.6,"y":13579},{"p":"c","s":"s7 Fit","x":534.4,"y":15663},{"p":"c","s":"s7 Fit","x":534.2,"y":18218},{"p":"c","s":"s7 Fit","x":534,"y":21135},{"p":"c","s":"s7 Fit","x":533.8,"y":24160},{"p":"c","s":"s7 Fit","x":533.6,"y":27257},{"p":"c","s":"s7 Fit","x":533.4,"y":30815},{"p":"c","s":"s7 Fit","x":533.2,"y":36105},{"p":"c","s":"s7 Fit","x":533,"y":45577},{"p":"c","s":"s7 Fit","x":532.8,"y":61634},{"p":"c","s":"s7 Fit","x":532.6,"y":84735},{"p":"c","s":"s7 Fit","x":532.4,"y":110574},{"p":"c","s":"s7 Fit","x":532.2,"y":131428},{"p":"c","s":"s7 Fit","x":532,"y":140601},{"p":"c","s":"s7 Fit","x":531.8,"y":138357},{"p":"c","s":"s7 Fit","x":531.6,"y":127124},{"p":"c","s":"s7 Fit","x":531.4,"y":109353},{"p":"c","s":"s7 Fit","x":531.2,"y":88368},{"p":"c","s":"s7 Fit","x":531,"y":67721},{"p":"c","s":"s7 Fit","x":530.8,"y":50143},{"p":"c","s":"s7 Fit","x":530.6,"y":36839},{"p":"c","s":"s7 Fit","x":530.4,"y":27675},{"p":"c","s":"s7 Fit","x":530.2,"y":21919},{"p":"c","s":"s7 Fit","x":530,"y":18412},{"p":"c","s":"s7 Fit","x":529.8,"y":16270},{"p":"c","s":"s7 Fit","x":529.6,"y":14706},{"p":"c","s":"s7 Fit","x":529.4,"y":13273},{"p":"c","s":"s7 Fit","x":529.2,"y":11888},{"p":"c","s":"s7 Fit","x":529,"y":10666},{"p":"c","s":"s7 Fit","x":528.8,"y":9750},{"p":"c","s":"s7 Fit","x":528.6,"y":9158},{"p":"c","s":"s7 Fit","x":528.4,"y":8815},{"p":"c","s":"s7 Fit","x":528.2,"y":8610},{"p":"c","s":"s7 Fit","x":528,"y":8485},{"p":"c","s":"s7 Fit","x":527.6,"y":8311},{"p":"c","s":"s7 Fit","x":527,"y":8113},
{"p":"c","s":"s8 Experimental","x":537.45,"y":9125},{"p":"c","s":"s8 Experimental","x":537,"y":9125},{"p":"c","s":"s8 Experimental","x":536.5,"y":9143},{"p":"c","s":"s8 Experimental","x":536,"y":9219},{"p":"c","s":"s8 Experimental","x":535.5,"y":9563},{"p":"c","s":"s8 Experimental","x":535,"y":10897},{"p":"c","s":"s8 Experimental","x":534.8,"y":12002},{"p":"c","s":"s8 Experimental","x":534.6,"y":13579},{"p":"c","s":"s8 Experimental","x":534.4,"y":15663},{"p":"c","s":"s8 Experimental","x":534.2,"y":18218},{"p":"c","s":"s8 Experimental","x":534,"y":21135},{"p":"c","s":"s8 Experimental","x":533.8,"y":24160},{"p":"c","s":"s8 Experimental","x":533.6,"y":27257},{"p":"c","s":"s8 Experimental","x":533.4,"y":30815},{"p":"c","s":"s8 Experimental","x":533.2,"y":36105},{"p":"c","s":"s8 Experimental","x":533,"y":45577},{"p":"c","s":"s8 Experimental","x":532.8,"y":61634},{"p":"c","s":"s8 Experimental","x":532.6,"y":85500},{"p":"c","s":"s8 Experimental","x":532.4,"y":112000},{"p":"c","s":"s8 Experimental","x":532.2,"y":133500},{"p":"c","s":"s8 Experimental","x":532,"y":143000},{"p":"c","s":"s8 Experimental","x":531.8,"y":140500},{"p":"c","s":"s8 Experimental","x":531.6,"y":128500},{"p":"c","s":"s8 Experimental","x":531.4,"y":110000},{"p":"c","s":"s8 Experimental","x":531.2,"y":88368},{"p":"c","s":"s8 Experimental","x":531,"y":67721},{"p":"c","s":"s8 Experimental","x":530.8,"y":50143},{"p":"c","s":"s8 Experimental","x":530.6,"y":36839},{"p":"c","s":"s8 Experimental","x":530.4,"y":27675},{"p":"c","s":"s8 Experimental","x":530.2,"y":21919},{"p":"c","s":"s8 Experimental","x":530,"y":18412},{"p":"c","s":"s8 Experimental","x":529.8,"y":16270},{"p":"c","s":"s8 Experimental","x":529.6,"y":14706},{"p":"c","s":"s8 Experimental","x":529.4,"y":13273},{"p":"c","s":"s8 Experimental","x":529.2,"y":11888},{"p":"c","s":"s8 Experimental","x":529,"y":10666},{"p":"c","s":"s8 Experimental","x":528.8,"y":9750},{"p":"c","s":"s8 Experimental","x":528.6,"y":9158},{"p":"c","s":"s8 Experimental","x":528.4,"y":8815},{"p":"c","s":"s8 Experimental","x":528.2,"y":8610},{"p":"c","s":"s8 Experimental","x":528,"y":8485},{"p":"c","s":"s8 Experimental","x":527.6,"y":8311},{"p":"c","s":"s8 Experimental","x":527,"y":8113}
]},
"spacing":0,
"bounds":"flush",
"resolve":{"scale":{"y":"independent","color":"independent","stroke":"independent"},"legend":{"color":"independent","stroke":"independent"}},
"vconcat":[
{"width":285,"height":130,
"layer":[
{"transform":[{"filter":"datum.p == 'a' && test(/C-O/, datum.s)"}],
"mark":{"type":"line","interpolate":"monotone","strokeWidth":1},
"encoding":{
"x":{"field":"x","type":"quantitative","scale":{"domain":[527,537.45],"reverse":true,"nice":false,"zero":false},"axis":{"values":[528,529,530,531,532,533,534,535,536,537],"tickCount":20,"labels":false,"title":null}},
"y":{"field":"y","type":"quantitative","scale":{"domain":[10000,60000],"nice":false,"zero":false},"axis":{"values":[20000,30000,40000,50000,60000],"tickCount":20,"labelOverlap":false,"labelExpr":"datum.value == 20000 ? '2x10⁴' : datum.value == 40000 ? '4x10⁴' : datum.value == 60000 ? '6x10⁴' : ''","title":null}},
"stroke":{"field":"s","type":"nominal","scale":{"domain":["s4 C-O groups","s5 C-O groups 2","s6 C-O groups 3"],"range":["#ff00ff","#ff00ff","#ff33cc"]},
"legend":{"values":["s4 C-O groups"],"labelExpr":"slice(datum.label, 3)","title":null,"orient":"none","direction":"horizontal","legendX":7,"legendY":15,"symbolType":"M-3.6,0H1","symbolSize":100,"symbolStrokeWidth":2.5,"symbolOpacity":0.55,"symbolOffset":17,"labelFont":"Liberation Serif","labelFontSize":10,"labelColor":"#000000","labelOffset":-1,"padding":4}}
}},
{"transform":[{"filter":"datum.p == 'a' && !test(/C-O/, datum.s)"}],
"mark":{"type":"line","interpolate":"monotone","strokeWidth":1},
"encoding":{
"x":{"field":"x","type":"quantitative"},
"y":{"field":"y","type":"quantitative"},
"color":{"field":"s","type":"nominal","scale":{"domain":["s1 NiO","s2 NiO(OH)","s3 Nickel hydroxide species","s0 Background","s7 Fit","s8 Experimental"],"range":["#ff0000","#0000ff","#808000","#000000","#454545","#8a8a8a"]},
"legend":{"values":["s1 NiO","s2 NiO(OH)","s3 Nickel hydroxide species"],"labelExpr":"slice(datum.label, 3)","title":" ","titleOrient":"bottom","titleFontSize":8,"titlePadding":2,"orient":"none","direction":"horizontal","legendX":7,"legendY":3,"columns":3,"symbolType":"M-3.6,0H1","symbolSize":100,"symbolStrokeWidth":2.5,"symbolOpacity":0.55,"symbolOffset":17,"labelFont":"Liberation Serif","labelFontSize":10,"labelColor":"#000000","labelOffset":-1,"columnPadding":0,"padding":4,"strokeColor":"#808080"}}
}},
{"data":{"values":[{"t":"a)"}]},"mark":{"type":"text","font":"Liberation Serif","fontWeight":"bold","fontSize":13},"encoding":{"x":{"datum":527.5},"y":{"datum":54200},"text":{"field":"t"}}}
]},
{"width":285,"height":131,
"layer":[
{"transform":[{"filter":"datum.p == 'b' && test(/C-O/, datum.s)"}],
"mark":{"type":"line","interpolate":"monotone","strokeWidth":1},
"encoding":{
"x":{"field":"x","type":"quantitative","scale":{"domain":[527,537.45],"reverse":true,"nice":false,"zero":false},"axis":{"values":[528,529,530,531,532,533,534,535,536,537],"tickCount":20,"labels":false,"title":null}},
"y":{"field":"y","type":"quantitative","scale":{"domain":[0,200000],"nice":false,"zero":false},"axis":{"values":[25000,50000,75000,100000,125000,150000,175000],"tickCount":20,"labelOverlap":false,"labelExpr":"datum.value == 50000 ? '5x10⁴' : datum.value == 100000 ? '1x10⁵' : datum.value == 150000 ? '2x10⁵' : ''","title":"Counts/s","titleX":-31,"titleY":44,"titleAlign":"center","titleBaseline":"middle","titleAngle":270}},
"stroke":{"field":"s","type":"nominal","scale":{"domain":["s4 C-O groups","s5 C-O groups 2","s6 C-O groups 3"],"range":["#ff00ff","#ff00ff","#ff33cc"]},"legend":null}}},
{"transform":[{"filter":"datum.p == 'b' && !test(/C-O/, datum.s)"}],
"mark":{"type":"line","interpolate":"monotone","strokeWidth":1},
"encoding":{
"x":{"field":"x","type":"quantitative"},
"y":{"field":"y","type":"quantitative"},
"color":{"field":"s","type":"nominal","scale":{"domain":["s1 NiO","s2 NiO(OH)","s3 Nickel hydroxide species","s0 Background","s7 Fit","s8 Experimental"],"range":["#ff0000","#0000ff","#808000","#000000","#454545","#8a8a8a"]},"legend":null}}},
{"data":{"values":[{"t":"b)"}]},"mark":{"type":"text","font":"Liberation Serif","fontWeight":"bold","fontSize":13},"encoding":{"x":{"datum":527.5},"y":{"datum":178500},"text":{"field":"t"}}}
]},
{"width":285,"height":131,
"layer":[
{"transform":[{"filter":"datum.p == 'c' && test(/C-O/, datum.s)"}],
"mark":{"type":"line","interpolate":"monotone","strokeWidth":1},
"encoding":{
"x":{"field":"x","type":"quantitative","scale":{"domain":[527,537.45],"reverse":true,"nice":false,"zero":false},"axis":{"values":[528,529,530,531,532,533,534,535,536,537],"tickCount":20,"labelExpr":"datum.value % 2 == 0 ? datum.value : ''","labelOverlap":false,"labelFontSize":9,"title":"Binding energy/eV","titlePadding":2}},
"y":{"field":"y","type":"quantitative","scale":{"domain":[4900,158000],"nice":false,"zero":false},"axis":{"values":[25000,50000,75000,100000,125000,150000],"tickCount":20,"labelOverlap":false,"labelExpr":"datum.value == 50000 ? '5x10⁴' : datum.value == 100000 ? '1x10⁵' : datum.value == 150000 ? '2x10⁵' : ''","title":null}},
"stroke":{"field":"s","type":"nominal","scale":{"domain":["s4 C-O groups","s5 C-O groups 2","s6 C-O groups 3"],"range":["#ff00ff","#ff00ff","#ff33cc"]},"legend":null}}},
{"transform":[{"filter":"datum.p == 'c' && !test(/C-O/, datum.s)"}],
"mark":{"type":"line","interpolate":"monotone","strokeWidth":1},
"encoding":{
"x":{"field":"x","type":"quantitative"},
"y":{"field":"y","type":"quantitative"},
"color":{"field":"s","type":"nominal","scale":{"domain":["s1 NiO","s2 NiO(OH)","s3 Nickel hydroxide species","s0 Background","s7 Fit","s8 Experimental"],"range":["#ff0000","#0000ff","#808000","#000000","#454545","#8a8a8a"]},"legend":null}}},
{"data":{"values":[{"t":"c)"}]},"mark":{"type":"text","font":"Liberation Serif","fontWeight":"bold","fontSize":13},"encoding":{"x":{"datum":527.5},"y":{"datum":142600},"text":{"field":"t"}}}
]}
]
}
